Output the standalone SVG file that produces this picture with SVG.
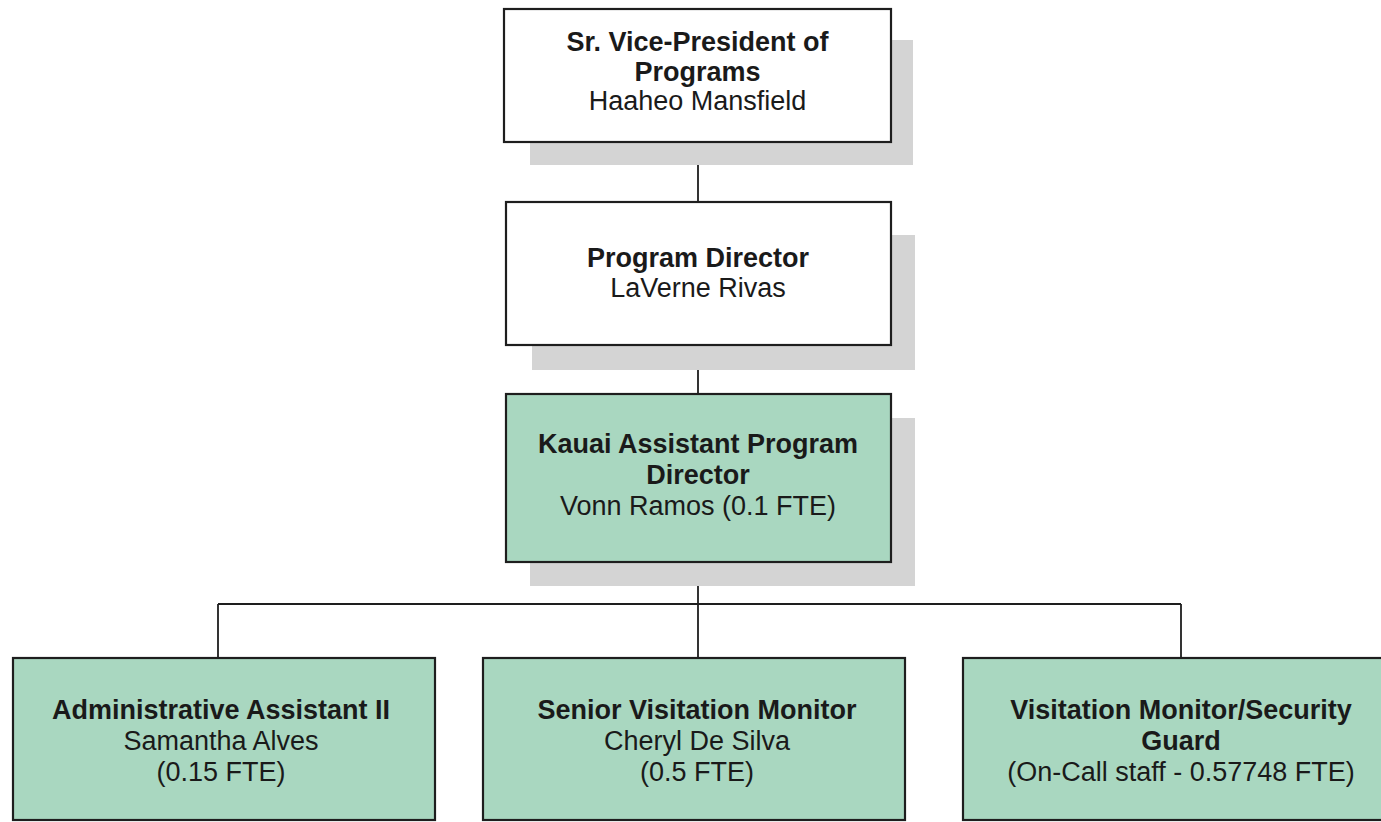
<svg xmlns="http://www.w3.org/2000/svg" width="1381" height="822" viewBox="0 0 1381 822">
<style>
.bg{fill:#ffffff}
.sh{fill:#d4d4d4}
.bw{fill:#ffffff;stroke:#1e1e1e;stroke-width:2.2}
.bg2{fill:#a9d7c0;stroke:#1e1e1e;stroke-width:2.2}
.ln{stroke:#1e1e1e;stroke-width:1.8;fill:none}
text{font-family:"Liberation Sans",Arial,sans-serif;font-size:27px;fill:#1a1a1a;text-anchor:middle}
.b{font-weight:bold}
</style>
<rect class="bg" x="0" y="0" width="1381" height="822"/>
<g id="connectors">
<path class="ln" d="M698,142 V202 M698,345 V394 M698,562 V658 M218,604 H1181 M218,604 V658 M1181,604 V658"/>
</g>
<g id="node-svp">
<rect class="sh" x="530" y="40" width="383" height="125"/>
<rect class="bw" x="504" y="9" width="387" height="133"/>
<text class="b" x="697.5" y="51">Sr. Vice-President of</text>
<text class="b" x="697.5" y="81">Programs</text>
<text x="697.5" y="110">Haaheo Mansfield</text>
</g>
<g id="node-pd">
<rect class="sh" x="532" y="235" width="383" height="135"/>
<rect class="bw" x="506" y="202" width="385" height="143"/>
<text class="b" x="698" y="267">Program Director</text>
<text x="698" y="297">LaVerne Rivas</text>
</g>
<g id="node-apd">
<rect class="sh" x="530" y="418" width="385" height="168"/>
<rect class="bg2" x="506" y="394" width="385" height="168"/>
<text class="b" x="698" y="453">Kauai Assistant Program</text>
<text class="b" x="698" y="484">Director</text>
<text x="698" y="515">Vonn Ramos (0.1 FTE)</text>
</g>
<g id="node-aa">
<rect class="bg2" x="13" y="658" width="422" height="162"/>
<text class="b" x="221" y="719">Administrative Assistant II</text>
<text x="221" y="750">Samantha Alves</text>
<text x="221" y="781">(0.15 FTE)</text>
</g>
<g id="node-svm">
<rect class="bg2" x="483" y="658" width="422" height="162"/>
<text class="b" x="697" y="719">Senior Visitation Monitor</text>
<text x="697" y="750">Cheryl De Silva</text>
<text x="697" y="781">(0.5 FTE)</text>
</g>
<g id="node-vm">
<rect class="bg2" x="963" y="658" width="440" height="162"/>
<text class="b" x="1181" y="719">Visitation Monitor/Security</text>
<text class="b" x="1181" y="750">Guard</text>
<text x="1181" y="781">(On-Call staff - 0.57748 FTE)</text>
</g>
</svg>
